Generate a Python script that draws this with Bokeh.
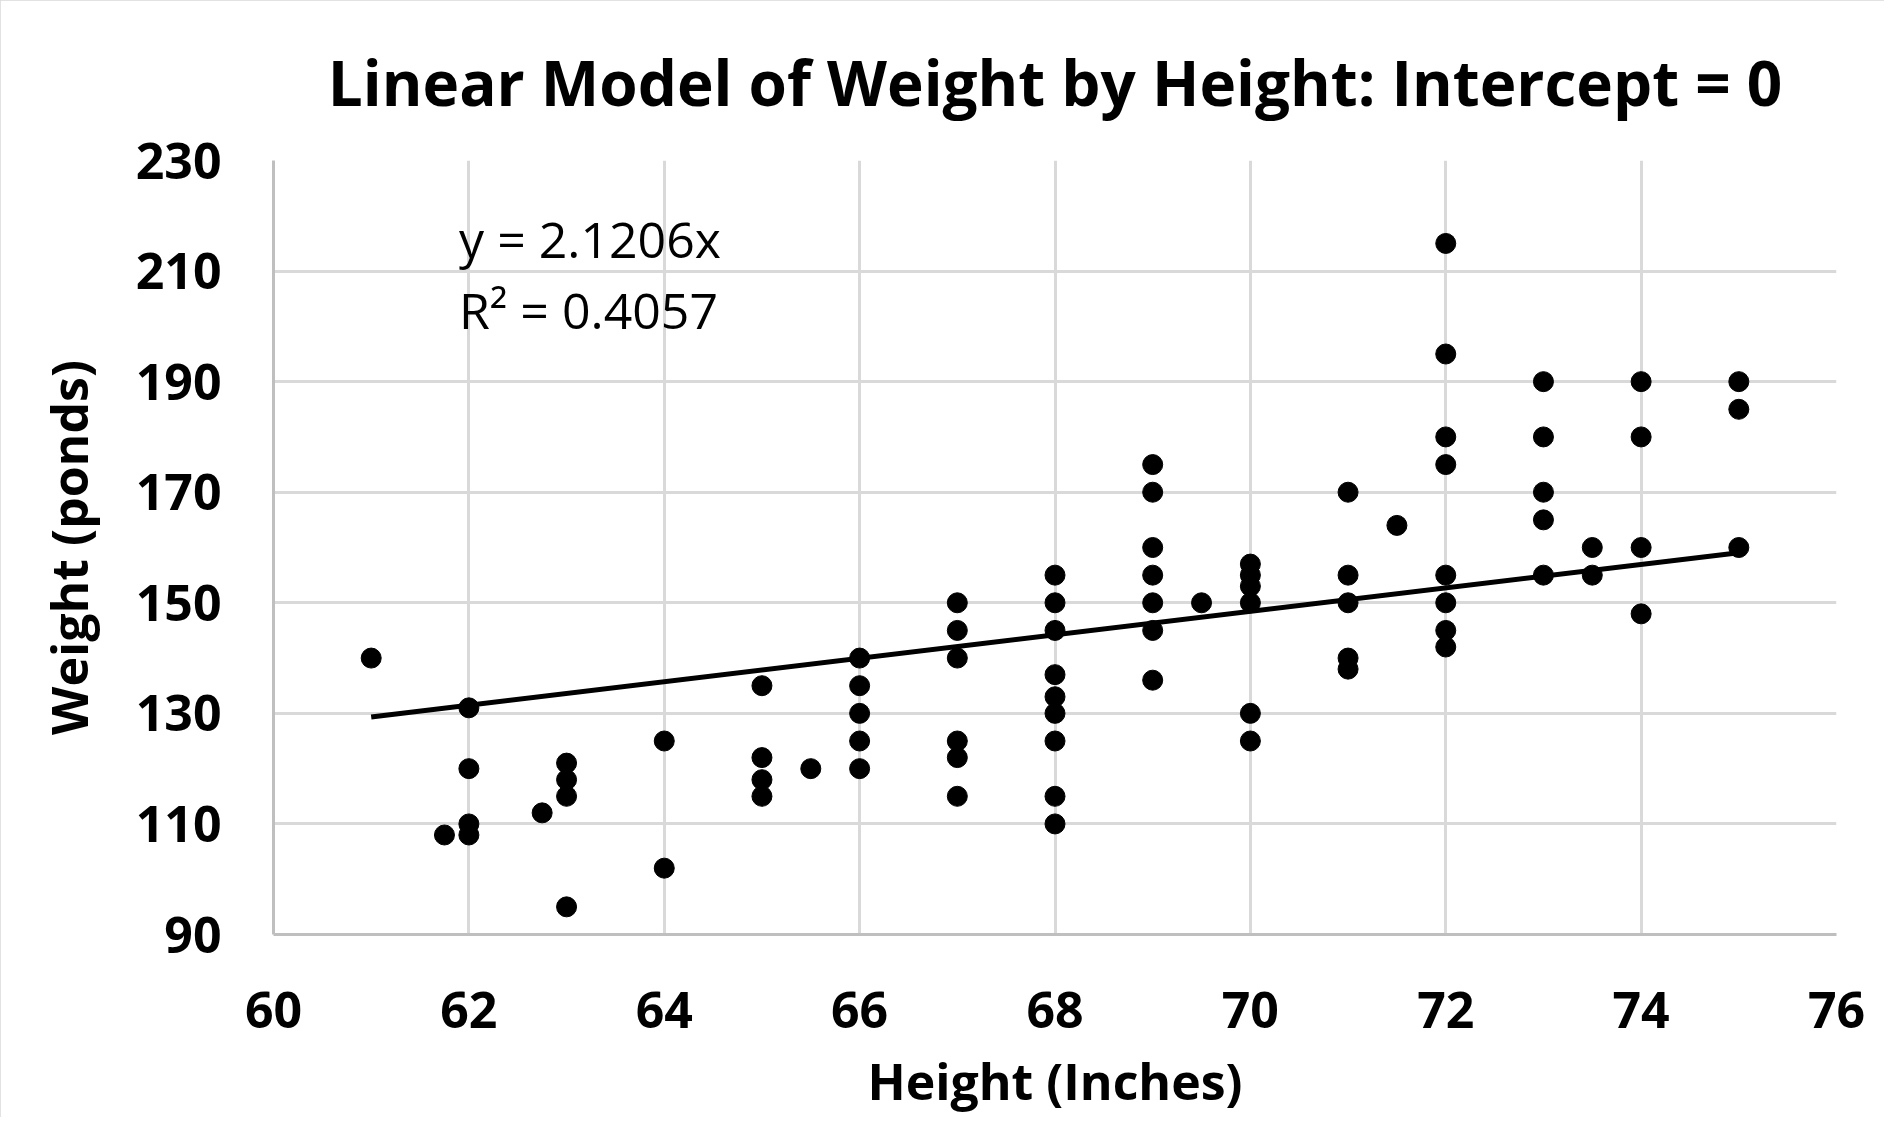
from bokeh.plotting import figure
from bokeh.models import Range1d, FixedTicker, Label, ColumnDataSource
from bokeh.embed import file_html
from bokeh.resources import INLINE

# ---- data ----
height_in = [61,
             61.75,
             62, 62, 62, 62,
             62.75,
             63, 63, 63, 63,
             64, 64,
             65, 65, 65, 65,
             65.5,
             66, 66, 66, 66, 66,
             67, 67, 67, 67, 67, 67,
             68, 68, 68, 68, 68, 68, 68, 68, 68,
             69, 69, 69, 69, 69, 69, 69,
             69.5,
             70, 70, 70, 70, 70, 70,
             71, 71, 71, 71, 71,
             71.5,
             72, 72, 72, 72, 72, 72, 72, 72,
             73, 73, 73, 73, 73,
             73.5, 73.5,
             74, 74, 74, 74,
             75, 75, 75]
weight_lb = [140,
             108,
             131, 120, 110, 108,
             112,
             121, 118, 115, 95,
             125, 102,
             135, 122, 118, 115,
             120,
             140, 135, 130, 125, 120,
             150, 145, 140, 125, 122, 115,
             155, 150, 145, 137, 133, 130, 125, 115, 110,
             175, 170, 160, 155, 150, 145, 136,
             150,
             157, 155, 153, 150, 130, 125,
             170, 155, 150, 140, 138,
             164,
             215, 195, 180, 175, 155, 150, 145, 142,
             190, 180, 170, 165, 155,
             160, 155,
             190, 180, 160, 148,
             190, 185, 160]

slope = 2.1206
r_squared = 0.4057
trend_x = [61, 75]
x_ticks = [60, 62, 64, 66, 68, 70, 72, 74, 76]
y_ticks = [90, 110, 130, 150, 170, 190, 210, 230]

title_text = "Linear Model of Weight by Height: Intercept = 0"
x_label = "Height (Inches)"
y_label = "Weight (ponds)"

FONT = "Open Sans"
GRID = "#d9d9d9"
AXIS = "#bfbfbf"

p = figure(width=1884, height=1117, output_backend="svg", toolbar_location=None,
           x_range=Range1d(60, 76), y_range=Range1d(90, 230),
           min_border_left=273, min_border_right=48,
           min_border_top=160, min_border_bottom=182,
           background_fill_color="white", border_fill_color="white")
p.outline_line_color = None
p.styles = {"outline": "3px solid #d9d9d9", "outline-offset": "-3px"}

# title
p.title.text = title_text
p.title.text_font = FONT
p.title.text_font_style = "bold"
p.title.text_font_size = "62px"
p.title.align = "center"
p.title.text_color = "black"
p.title.standoff = 73

# axes
for ax in (p.xaxis[0], p.yaxis[0]):
    ax.axis_line_color = AXIS
    ax.axis_line_width = 3
    ax.major_tick_line_color = None
    ax.minor_tick_line_color = None
    ax.major_tick_out = 0
    ax.major_tick_in = 0
    ax.major_label_text_font = FONT
    ax.major_label_text_font_style = "bold"
    ax.major_label_text_font_size = "50px"
    ax.major_label_text_color = "black"
    ax.axis_label_text_font = FONT
    ax.axis_label_text_font_style = "bold"
    ax.axis_label_text_font_size = "50px"
    ax.axis_label_text_color = "black"

p.xaxis[0].ticker = FixedTicker(ticks=x_ticks)
p.yaxis[0].ticker = FixedTicker(ticks=y_ticks)
p.xaxis[0].major_label_standoff = 57
p.yaxis[0].major_label_standoff = 52
p.xaxis[0].axis_label = x_label
p.yaxis[0].axis_label = y_label
p.xaxis[0].axis_label_standoff = 16
p.yaxis[0].axis_label_standoff = 30

# grid
p.xgrid[0].ticker = FixedTicker(ticks=x_ticks)
p.ygrid[0].ticker = FixedTicker(ticks=y_ticks)
for g in (p.xgrid[0], p.ygrid[0]):
    g.grid_line_color = GRID
    g.grid_line_width = 3

# points
src = ColumnDataSource(data=dict(x=height_in, y=weight_lb))
p.scatter("x", "y", source=src, size=20, marker="circle",
          fill_color="black", line_color="black")

# trend line
trend_y = [slope * v for v in trend_x]
p.line(trend_x, trend_y, line_color="black", line_width=5)

# equation text
eq1 = Label(x=61.9, y=215.8, text=f"y = {slope}x", text_font=FONT,
            text_font_size="50px", text_color="black", text_baseline="alphabetic")
eq2 = Label(x=61.9, y=203.0, text=f"R\u00b2 = {r_squared}", text_font=FONT,
            text_font_size="50px", text_color="black", text_baseline="alphabetic")
p.add_layout(eq1)
p.add_layout(eq2)

open("out.html", "w").write(file_html(p, INLINE))
